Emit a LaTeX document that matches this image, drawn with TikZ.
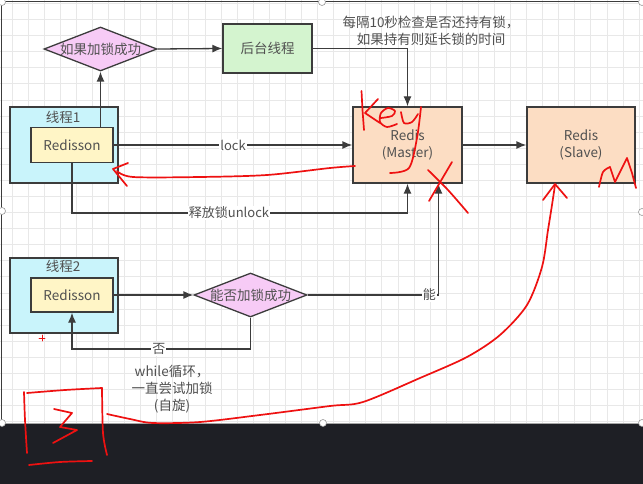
\documentclass[tikz,border=0pt]{standalone}
\usepackage{fontspec}
\setmainfont{Noto Sans CJK SC}
\usetikzlibrary{arrows.meta,shapes.geometric,calc}
\definecolor{tx}{HTML}{505050}
\definecolor{ln}{HTML}{3C3C3C}
\definecolor{thr}{HTML}{C9F4FB}
\definecolor{rds}{HTML}{FFF5C6}
\definecolor{dia}{HTML}{F7CBF6}
\definecolor{grn}{HTML}{D4F4CF}
\definecolor{pch}{HTML}{FCDDC3}
\definecolor{hand}{HTML}{EE1111}
\definecolor{band}{HTML}{1E1F25}
\definecolor{gridc}{HTML}{E8E8E8}
\begin{document}
\begin{tikzpicture}[x=1pt,y=-1pt,
  font=\fontsize{13.5}{17}\selectfont,
  box/.style={draw=ln,line width=1.3pt,inner sep=0pt,text=tx,align=center},
  diabox/.style={diamond,draw=ln,line width=1.3pt,fill=dia,inner sep=0pt,aspect=2.57,minimum width=113pt,minimum height=44pt},
  conn/.style={draw=ln,line width=1.3pt,-{Latex[length=10pt,width=8pt]}},
  lbl/.style={fill=white,inner sep=1pt,text=tx,font=\fontsize{13}{15}\selectfont},
  plain/.style={text=tx,align=center,inner sep=0pt},
  hand/.style={draw=hand,line width=1.7pt,line cap=round,line join=round},
  handle/.style={circle,draw=gray!80,fill=white,line width=0.6pt,inner sep=0pt,minimum size=7pt}]
\useasboundingbox (0,0) rectangle (643,484);
% canvas and grid
\fill[white] (0,0) rectangle (643,423);
\foreach \i in {0,...,39} \draw[gridc,line width=0.8pt] (12+16.08*\i,0) -- (12+16.08*\i,423);
\foreach \j in {0,...,26} \draw[gridc,line width=0.8pt] (0,3.5+16.08*\j) -- (643,3.5+16.08*\j);
\fill[band] (0,423) rectangle (643,484);
\draw[gray!70,line width=0.6pt] (0,423) -- (643,423);
\draw[ln,line width=1pt] (0,1.5) -- (643,1.5);
\draw[ln,line width=1pt] (1.5,0) -- (1.5,423);
\foreach \p/\n in {{(2,2)}/h1,{(322,2)}/h2,{(642,2)}/h3,{(2,211)}/h4,{(642,212)}/h5,{(2,423)}/h6,{(323,423)}/h7,{(642,423)}/h8}
  \node[handle] (\n) at \p {};
% nodes
\node[box,fill=thr,minimum width=108pt,minimum height=76pt] (t1) at (64,145) {};
\node[plain] (t1l) at (63,117) {线程1};
\node[box,fill=rds,minimum width=82pt,minimum height=35pt] (r1) at (72,145) {Redisson};
\node[diabox] (d1) at (100.5,49) {};
\node[plain] (d1t) at (d1) {如果加锁成功};
\node[box,fill=grn,minimum width=89pt,minimum height=49pt] (bg) at (267.5,48.5) {后台线程};
\node[box,fill=pch,minimum width=109pt,minimum height=76pt] (ms) at (407.5,145) {Redis\\(Master)};
\node[box,fill=pch,minimum width=108pt,minimum height=76pt] (sl) at (581,145) {Redis\\(Slave)};
\node[plain] (note) at (431,30.5) {每隔10秒检查是否还持有锁，\\如果持有则延长锁的时间};
\node[box,fill=thr,minimum width=108pt,minimum height=75pt] (t2) at (64,295.5) {};
\node[plain] (t2l) at (63,266) {线程2};
\node[box,fill=rds,minimum width=82pt,minimum height=34pt] (r2) at (72,295) {Redisson};
\node[diabox] (d2) at (250.5,295) {};
\node[plain] (d2t) at (d2) {能否加锁成功};
\node[plain] (wl) at (172,389) {while循环，\\一直尝试加锁\\(自旋)};
% connectors
\coordinate (yu) at (0,213);
\coordinate (yn) at (0,349);
\draw[conn] (d1 |- r1.north) -- (d1.south);
\draw[conn] (d1.east) -- (bg.west);
\draw[conn] (bg.east) -| (ms.north);
\draw[conn] (r1.east) -- node[lbl]{lock} (ms.west);
\draw[conn] (r1.south) -- (r1.south |- yu) -| node[lbl,pos=0.234]{释放锁unlock} (ms.south);
\draw[conn] (ms.east) -- (sl.west);
\draw[conn] (r2.east) -- (d2.west);
\draw[conn] (d2.east) -| node[lbl,pos=0.465]{能} ([xshift=31pt]ms.south);
\draw[conn] (d2.south) -- (d2.south |- yn) -| node[lbl,pos=0.257]{否} (r2.south);
% red handwriting
\draw[hand] plot[smooth] coordinates {(355,166) (330,168) (267,175) (200,177) (133,177) (117,171)};
\draw[hand] (128,163) -- (113,169) -- (127,186);
\draw[hand] (361.5,91) -- (362.5,110) -- (364,130);
\draw[hand] (378,99) -- (365,113) -- (380,123);
\draw[hand] plot[smooth] coordinates {(381,118) (392,116) (395,111) (388,108) (381,113) (380,122) (387,127) (397,124)};
\draw[hand] plot[smooth] coordinates {(401,112) (404,123) (412,122) (418,114)};
\draw[hand] plot[smooth] coordinates {(421,107) (417,138) (409,168) (390,173)};
\draw[hand] (452,162) -- (429,201);
\draw[hand] plot[smooth] coordinates {(428,170) (448,190) (468,213)};
\draw[hand] plot[smooth] coordinates {(599,187) (603,172) (610,167)};
\draw[hand] (610,167) -- (615,182) -- (627,158) -- (632,173) -- (636,188);
\draw[hand] plot[smooth] coordinates {(107,414) (130,419) (153,423) (200,422) (260,415) (330,406) (363,402) (420,378) (467,357) (500,335) (527,305) (542,267) (548,230) (552,205) (555,185)};
\draw[hand] (543,200) -- (555,184) -- (567,198);
\draw[hand,line width=0.8pt] (39,338) -- (45,338) (42,335) -- (42,341);
\draw[hand] plot[smooth] coordinates {(27,393) (65,390) (102,388)};
\draw[hand] plot[smooth] coordinates {(24,392) (25,420) (27,453)};
\draw[hand] plot[smooth] coordinates {(102,388) (103,433) (107,455)};
\draw[hand] plot[smooth] coordinates {(29,465) (60,462) (92,461)};
\draw[hand] (54,409) -- (72,413) -- (60,427) -- (77,430) -- (53,443);
\end{tikzpicture}
\end{document}
